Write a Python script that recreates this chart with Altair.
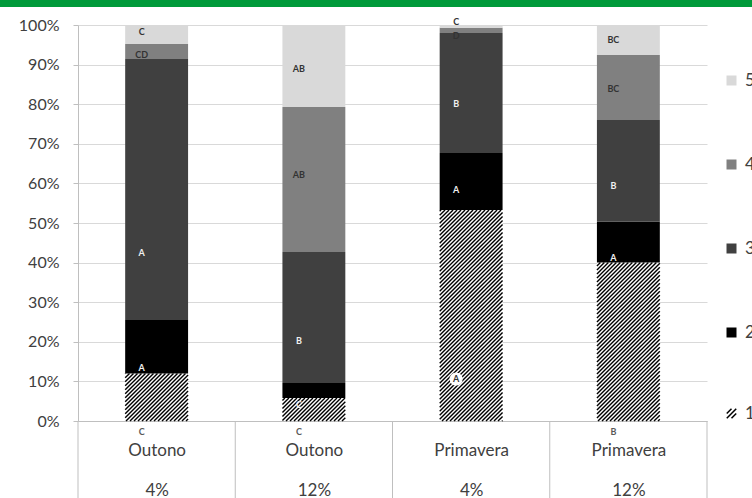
import altair as alt
import pandas as pd

# ---------------- data ----------------
estacoes = ["Outono", "Outono", "Primavera", "Primavera"]
doses = ["4%", "12%", "4%", "12%"]
series = ["1", "2", "3", "4", "5"]
serie_1 = [12.0, 5.8, 53.3, 40.0]
serie_2 = [13.5, 3.8, 14.4, 10.3]
serie_3 = [65.9, 33.1, 30.3, 25.7]
serie_4 = [3.8, 36.6, 1.3, 16.4]
serie_5 = [4.8, 20.7, 0.7, 7.6]
y_ticks = [0, 10, 20, 30, 40, 50, 60, 70, 80, 90, 100]

letras_barra = [0, 0, 0, 0, 0, 1, 1, 1, 1, 1, 2, 2, 2, 2, 2, 3, 3, 3, 3, 3]
letras_texto = ["C", "CD", "A", "A", "C", "AB", "AB", "B", "C", "C",
                "C", "D", "B", "A", "A", "BC", "BC", "B", "A", "B"]
letras_valor = [98.2, 92.4, 42.4, 13.4, -2.8, 88.9, 62.1, 20.2, 4.0, -2.8,
                100.8, 97.2, 80.0, 58.3, 10.6, 96.2, 83.8, 59.3, 41.2, -2.8]
letras_tipo = ["claro", "claro", "escuro", "escuro", "eixo",
               "claro", "claro", "escuro", "escuro", "eixo",
               "claro", "claro", "escuro", "escuro", "destaque",
               "claro", "claro", "escuro", "escuro", "eixo"]

# ---------------- layout / style ----------------
W, H = 629, 396
PAD_L, PAD_T, PAD_R, PAD_B = 78, 25, 45, 77
BAR_HALF = 0.2
LABEL_SHIFT_PX = 15
FONT = "Lato"
TXT = "#404040"
cores = {"1": "#ffffff", "2": "#000000", "3": "#404040", "4": "#808080", "5": "#d9d9d9"}
cor_letra = {"claro": "#333333", "escuro": "#f0f0f0", "eixo": "#595959", "destaque": "#333333"}
HATCH_PATH = "M-1,1L1,-1M-1,0L0,-1M0,1L1,0"

n = len(estacoes)
valores = [serie_1, serie_2, serie_3, serie_4, serie_5]
sx, sy = W / n, H / 100.0

rows = []
for i in range(n):
    base = 0.0
    for s, vals in zip(series, valores):
        rows.append({"serie": s, "x0": i + 0.5 - BAR_HALF, "x1": i + 0.5 + BAR_HALF,
                     "y0": base, "y1": base + vals[i]})
        base += vals[i]
bars_df = pd.DataFrame(rows)

# hatch lines for serie 1 (45 degree lines in pixel space)
period = 4.0
hatch = []
for i, h in enumerate(serie_1):
    xa, xb, hp = (i + 0.5 - BAR_HALF) * sx, (i + 0.5 + BAR_HALF) * sx, h * sy
    k0 = int((xa - hp) // period) - 1
    k1 = int(xb // period) + 1
    for k in range(k0, k1 + 1):
        c = k * period
        X1 = max(xa, c)
        X2 = min(xb, c + hp)
        if X2 - X1 > 0.2:
            hatch.append({"hx": X1 / sx, "hy": (X1 - c) / sy, "hx2": X2 / sx, "hy2": (X2 - c) / sy})
hatch_df = pd.DataFrame(hatch)

lab_df = pd.DataFrame({
    "lx": [b + 0.5 - LABEL_SHIFT_PX / sx for b in letras_barra],
    "ly": letras_valor,
    "txt": letras_texto,
    "cor": [cor_letra[t] for t in letras_tipo],
    "tipo": letras_tipo,
})

sep_df = pd.DataFrame({"sx": list(range(n + 1))})

xscale = alt.Scale(domain=[0, n], nice=False, zero=False)
yscale = alt.Scale(domain=[0, 100], nice=False, zero=False)

label_expr = ""
for i in range(n):
    label_expr += f"datum.value < {i + 1} ? ['{estacoes[i]}', '{doses[i]}'] : "
label_expr += "''"

x_axis = alt.Axis(values=[i + 0.5 for i in range(n)], labelExpr=label_expr, ticks=False,
                  grid=False, domainColor="#bfbfbf", labelFont=FONT, labelFontSize=17,
                  labelColor=TXT, labelLineHeight=40, labelBaseline="top", labelPadding=21,
                  labelAngle=0, labelAlign="center", labelOverlap=False)
y_axis = alt.Axis(values=y_ticks, labelExpr="datum.value + '%'",
                  tickSize=5, tickColor="#bfbfbf", domainColor="#bfbfbf",
                  gridColor="#d9d9d9", labelFont=FONT, labelFontSize=16, labelColor=TXT,
                  labelPadding=14, labelOverlap=False, labelBound=False, labelFlush=False)


def X(f):
    return alt.X(f, type="quantitative", scale=xscale, axis=x_axis, title=None)


def Y(f):
    return alt.Y(f, type="quantitative", scale=yscale, axis=y_axis, title=None)


solid = ["5", "4", "3", "2"]

base_white = alt.Chart(bars_df).transform_filter("datum.serie == '1'").mark_bar(
    color=cores["1"], strokeWidth=0
).encode(x=X("x0"), x2="x1", y=Y("y0"), y2="y1")

bars = alt.Chart(bars_df).transform_filter("datum.serie != '1'").mark_bar(strokeWidth=0).encode(
    x=X("x0"), x2="x1", y=Y("y0"), y2="y1",
    color=alt.Color("serie:N",
                    scale=alt.Scale(domain=solid, range=[cores[s] for s in solid]),
                    legend=alt.Legend(title=None, orient="none", legendX=645, legendY=47,
                                      symbolType="square", symbolSize=100, labelFont=FONT,
                                      labelFontSize=17, labelColor=TXT, rowPadding=66,
                                      labelOffset=5, symbolStrokeWidth=0)),
)

legend_hatch = alt.Chart(bars_df).transform_filter("false").mark_point(filled=False).encode(
    x=X("x0"), y=Y("y0"),
    stroke=alt.Stroke("serie:N",
                      scale=alt.Scale(domain=["1"], range=["#000000"]),
                      legend=alt.Legend(title=None, orient="none", legendX=645, legendY=380,
                                        symbolType=HATCH_PATH, symbolSize=90, labelFont=FONT,
                                        labelFontSize=17, labelColor=TXT, labelOffset=5,
                                        symbolStrokeWidth=1.5, symbolOpacity=1)),
)

hatch_layer = alt.Chart(hatch_df).mark_rule(color="#000000", strokeWidth=1.4).encode(
    x=X("hx"), x2="hx2", y=Y("hy"), y2="hy2",
)

seps = alt.Chart(sep_df).mark_rule(color="#bfbfbf", strokeWidth=1).encode(
    x=X("sx"),
    y=alt.value(H),
    y2=alt.value(H + PAD_B),
)

green = alt.Chart(pd.DataFrame({"a": [0]})).mark_rect(color="#009a3a").encode(
    x=alt.value(-PAD_L), x2=alt.value(W + PAD_R), y=alt.value(-PAD_T), y2=alt.value(-PAD_T + 7)
)

circ = alt.Chart(lab_df).transform_filter("datum.tipo == 'destaque'").mark_point(
    filled=True, color="#ffffff", size=170, opacity=1, shape="circle"
).encode(x=X("lx"), y=Y("ly"))

letters = alt.Chart(lab_df).mark_text(font=FONT, fontSize=9, fontWeight="bold",
                                      align="center", baseline="middle").encode(
    x=X("lx"), y=Y("ly"),
    text="txt:N",
    color=alt.Color("cor:N", scale=None),
)

chart = alt.layer(base_white, bars, legend_hatch, hatch_layer, seps, circ, letters, green).properties(
    width=W, height=H,
    padding={"left": PAD_L, "top": PAD_T, "right": PAD_R, "bottom": PAD_B},
    autosize=alt.AutoSizeParams(type="none"),
    background="#ffffff",
).configure_view(strokeOpacity=0).configure_axis(labelOverlap=False)

chart.save("out.html", embed_options={"renderer": "svg", "actions": False})
